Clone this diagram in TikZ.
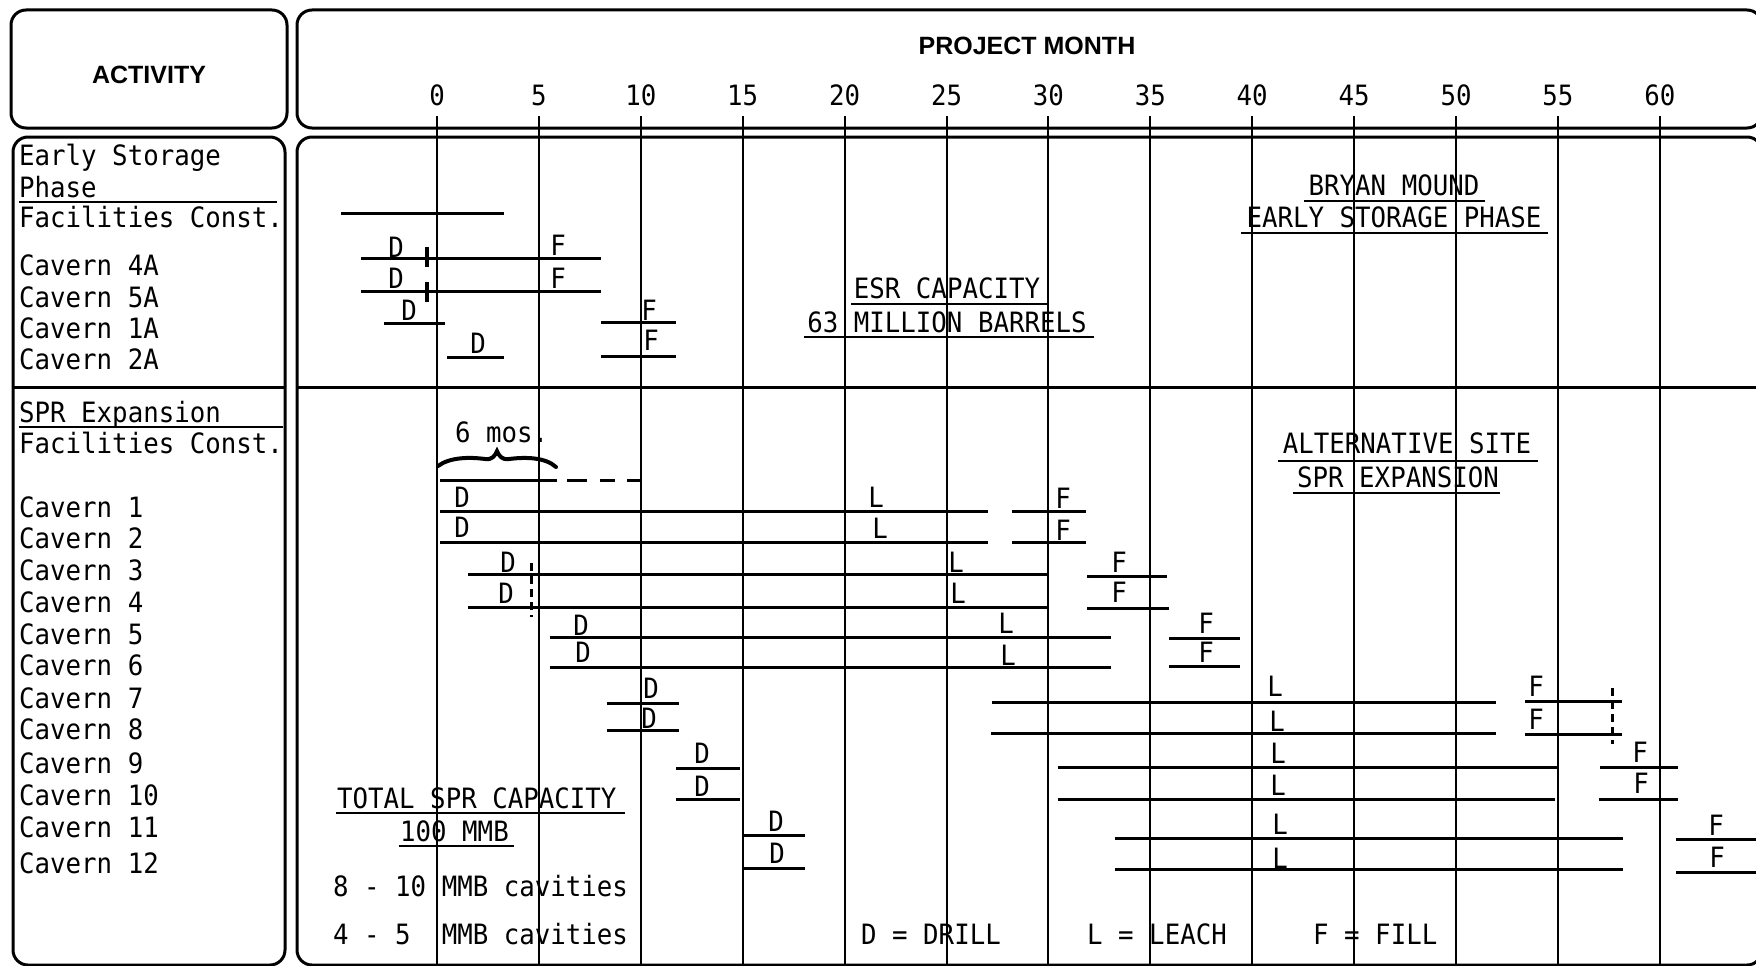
\documentclass[tikz,border=0pt]{standalone}
\usepackage{fontspec}
\newfontfamily\monofam{DejaVu Sans Mono}[FakeStretch=0.92]
\newfontfamily\hdrfam{Liberation Sans}
\newcommand\txl[4]{\node[mono,anchor=base west] (#1) at (#2,#3+10) {#4};}
\newcommand\txc[4]{\node[mono,anchor=base] (#1) at (#2,#3+10) {#4};}
\begin{document}
\begin{tikzpicture}[x=1pt,y=-1pt,
  box/.style={line width=3pt, rounded corners=15pt},
  rule/.style={line width=3pt},
  grid/.style={line width=2pt},
  barline/.style={line width=3pt},
  uline/.style={line width=2pt},
  tick/.style={line width=3.5pt},
  dtick/.style={line width=3pt, dash pattern=on 8pt off 5pt},
  mono/.style={font=\monofam\fontsize{28}{32}\selectfont, inner sep=0pt},
  hdr/.style={font=\hdrfam\bfseries\fontsize{25}{28}\selectfont, inner sep=0pt},
]
\useasboundingbox (0,0) rectangle (1756,966);
\clip (0,0) rectangle (1756,966);
% frames
\draw[box] (11,10) rectangle (287,128);
\draw[box] (297,10) rectangle (1762,128);
\draw[box] (13,137) rectangle (285,965);
\draw[box] (297,137) rectangle (1762,965);
\draw[rule] (13,387) -- (285,387);
\draw[rule] (297,387) -- (1756,387);
% headers
\node[hdr, anchor=base] (activity) at (149,83) {ACTIVITY};
\node[hdr, anchor=base] (projmonth) at (1027,55) {PROJECT MONTH};
% grid and month numbers
\foreach \m in {0,5,...,60} {
  \draw[grid] ({437+20.38*\m},116) -- ({437+20.38*\m},966);
  \node[mono, anchor=base] (m\m) at ({437+20.38*\m},105) {\m};
}
% left column
\txl{es1}{19}{155}{Early Storage}
\txl{es2}{19}{187}{Phase}
\draw[uline] (19,202) -- (277,202);
\txl{es3}{19}{217}{Facilities Const.}
\txl{c4a}{19}{265}{Cavern 4A}
\txl{c5a}{19}{297}{Cavern 5A}
\txl{c1a}{19}{328}{Cavern 1A}
\txl{c2a}{19}{359}{Cavern 2A}
\txl{sp1}{19}{412}{SPR Expansion}
\draw[uline] (19,427) -- (283,427);
\txl{sp2}{19}{443}{Facilities Const.}
\txl{cv1}{19}{507}{Cavern 1}
\txl{cv2}{19}{538}{Cavern 2}
\txl{cv3}{19}{570}{Cavern 3}
\txl{cv4}{19}{602}{Cavern 4}
\txl{cv5}{19}{634}{Cavern 5}
\txl{cv6}{19}{665}{Cavern 6}
\txl{cv7}{19}{698}{Cavern 7}
\txl{cv8}{19}{729}{Cavern 8}
\txl{cv9}{19}{763}{Cavern 9}
\txl{cv10}{19}{795}{Cavern 10}
\txl{cv11}{19}{827}{Cavern 11}
\txl{cv12}{19}{863}{Cavern 12}
% annotations
\txc{esr1}{947}{288}{ESR CAPACITY}
\draw[uline] (851,304) -- (1048,304);
\txc{esr2}{947}{322}{63 MILLION BARRELS}
\draw[uline] (804,337) -- (1094,337);
\txc{bm1}{1394}{185}{BRYAN MOUND}
\draw[uline] (1304,201) -- (1485,201);
\txc{bm2}{1394}{217}{EARLY STORAGE PHASE}
\draw[uline] (1241,233) -- (1548,233);
\txc{alt1}{1407}{443}{ALTERNATIVE SITE}
\draw[uline] (1278,461) -- (1538,461);
\txc{alt2}{1398}{477}{SPR EXPANSION}
\draw[uline] (1293,493) -- (1500,493);
\txl{tot1}{337}{798}{TOTAL SPR CAPACITY}
\draw[uline] (336,813) -- (625,813);
\txl{tot2}{400}{831}{100 MMB}
\draw[uline] (399,846) -- (514,846);
\txl{cav8}{333}{886}{8 - 10 MMB cavities}
\txl{cav4}{333}{934}{4 - 5\ \ MMB cavities}
\txl{kd}{861}{934}{D = DRILL}
\txl{kl}{1087}{934}{L = LEACH}
\txl{kf}{1313}{934}{F = FILL}
% early storage bars
\draw[barline] (341,213) -- (504,213);
\draw[barline] (361,258) -- (601,258);
\draw[tick] (427,247) -- (427,267);
\draw[barline] (361,291) -- (601,291);
\draw[tick] (427,282) -- (427,302);
\draw[barline] (384,323) -- (445,323);
\draw[barline] (601,322) -- (676,322);
\draw[barline] (447,357) -- (504,357);
\draw[barline] (601,356) -- (676,356);
\txc{d4a}{396}{247}{D}
\txc{f4a}{558}{245}{F}
\txc{d5a}{396}{278}{D}
\txc{f5a}{558}{278}{F}
\txc{d1a}{409}{310}{D}
\txc{f1a}{649}{310}{F}
\txc{d2a}{478}{343}{D}
\txc{f2a}{651}{340}{F}
% SPR facilities
\txl{six}{455}{432}{6 mos.}
\draw[line width=4pt, line cap=round] (438,466) .. controls (450,457) and (470,457) .. (485,459)
  .. controls (492,460) and (495,456) .. (497,451)
  .. controls (499,456) and (502,460) .. (509,459)
  .. controls (525,457) and (545,457) .. (556,467);
\draw[barline] (440,480) -- (557,480);
\draw[barline] (567,480) -- (587,480);
\draw[barline] (600,480) -- (615,480);
\draw[barline] (627,480) -- (640,480);
% caverns 1-2
\draw[barline] (440,511) -- (988,511);
\draw[barline] (1012,511) -- (1086,511);
\draw[barline] (440,542) -- (988,542);
\draw[barline] (1012,542) -- (1086,542);
\txc{d1}{462}{497}{D}
\txc{l1}{876}{497}{L}
\txc{f1}{1063}{498}{F}
\txc{d2}{462}{527}{D}
\txc{l2}{880}{528}{L}
\txc{f2}{1063}{530}{F}
% caverns 3-4
\draw[barline] (468,574) -- (1048,574);
\draw[barline] (1087,576) -- (1167,576);
\draw[barline] (468,607) -- (1048,607);
\draw[barline] (1087,608) -- (1169,608);
\draw[dtick] (531,563) -- (531,617);
\txc{d3}{508}{562}{D}
\txc{l3}{956}{562}{L}
\txc{f3}{1119}{562}{F}
\txc{d4}{506}{593}{D}
\txc{l4}{958}{593}{L}
\txc{f4}{1119}{592}{F}
% caverns 5-6
\draw[barline] (550,637) -- (1111,637);
\draw[barline] (1169,638) -- (1240,638);
\draw[barline] (550,667) -- (1111,667);
\draw[barline] (1169,666) -- (1240,666);
\txc{d5}{581}{625}{D}
\txc{l5}{1006}{623}{L}
\txc{f5}{1206}{623}{F}
\txc{d6}{583}{652}{D}
\txc{l6}{1008}{655}{L}
\txc{f6}{1206}{652}{F}
% caverns 7-8
\draw[barline] (607,703) -- (679,703);
\draw[barline] (992,702) -- (1496,702);
\draw[barline] (1525,701) -- (1622,701);
\draw[barline] (607,730) -- (679,730);
\draw[barline] (991,733) -- (1496,733);
\draw[barline] (1525,734) -- (1622,734);
\draw[dtick] (1612,688) -- (1612,744);
\txc{d7}{651}{688}{D}
\txc{l7}{1275}{686}{L}
\txc{f7}{1536}{686}{F}
\txc{d8}{649}{718}{D}
\txc{l8}{1277}{721}{L}
\txc{f8}{1536}{719}{F}
% caverns 9-10
\draw[barline] (676,768) -- (740,768);
\draw[barline] (1058,767) -- (1557,767);
\draw[barline] (1600,767) -- (1678,767);
\draw[barline] (676,799) -- (740,799);
\draw[barline] (1058,799) -- (1555,799);
\draw[barline] (1599,799) -- (1678,799);
\txc{d9}{702}{753}{D}
\txc{l9}{1278}{753}{L}
\txc{f9}{1640}{752}{F}
\txc{d10}{702}{786}{D}
\txc{l10}{1278}{785}{L}
\txc{f10}{1641}{783}{F}
% caverns 11-12
\draw[barline] (742,835) -- (805,835);
\draw[barline] (1115,838) -- (1623,838);
\draw[barline] (1676,839) -- (1756,839);
\draw[barline] (742,868) -- (805,868);
\draw[barline] (1115,869) -- (1623,869);
\draw[barline] (1676,872) -- (1756,872);
\txc{d11}{776}{821}{D}
\txc{l11}{1280}{824}{L}
\txc{f11}{1716}{825}{F}
\txc{d12}{777}{853}{D}
\txc{l12}{1280}{858}{L}
\txc{f12}{1717}{857}{F}
\end{tikzpicture}
\end{document}
